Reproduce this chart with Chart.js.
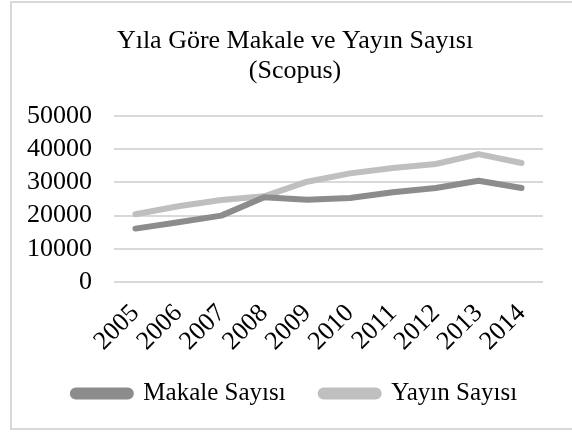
<!DOCTYPE html>
<html>
<head>
<meta charset="utf-8">
<script src="https://cdn.jsdelivr.net/npm/chart.js@4/dist/chart.umd.min.js"></script>
<style>
    body { margin: 0; background: #fff; }
    canvas { display: block; }
</style>
</head>
<body>
<canvas id="scopus-chart" width="572" height="432"></canvas>
<script>
const years = ['2005', '2006', '2007', '2008', '2009', '2010', '2011', '2012', '2013', '2014'];
const makaleSayisi = [16100, 18000, 20000, 25500, 24800, 25300, 27000, 28300, 30500, 28300];
const yayinSayisi = [20400, 22800, 24700, 25800, 30200, 32700, 34300, 35500, 38500, 35800];
const yTicks = [0, 10000, 20000, 30000, 40000, 50000];

const serif = "'Liberation Serif', 'Times New Roman', serif";

// light grey frame round the whole chart, open on the right like the picture
const framePlugin = {
    id: 'frame',
    beforeDraw(chart) {
        const ctx = chart.ctx;
        ctx.save();
        ctx.fillStyle = '#fff';
        ctx.fillRect(0, 0, chart.width, chart.height);
        ctx.strokeStyle = '#d9d9d9';
        ctx.lineWidth = 2;
        ctx.strokeRect(11, 2, 620, 427);
        ctx.restore();
    },
    afterLayout(chart) {
        // title and legend sit a bit right of the plot centre in the original
        chart.legend.left += 10;
        chart.legend.right += 10;
        chart.legend.top -= 19;
        chart.titleBlock.left += 10;
        chart.titleBlock.right += 10;
    }
};

function drawChart() {
    const ctx = document.getElementById('scopus-chart').getContext('2d');
    new Chart(ctx, {
        type: 'line',
        data: {
            labels: years,
            datasets: [{
                label: 'Makale Sayısı',
                data: makaleSayisi,
                borderColor: '#8c8c8c',
                backgroundColor: '#8c8c8c',
                borderWidth: 6,
                pointRadius: 0,
                borderCapStyle: 'round',
                borderJoinStyle: 'round',
                tension: 0,
            }, {
                label: 'Yayın Sayısı',
                data: yayinSayisi,
                borderColor: '#bfbfbf',
                backgroundColor: '#bfbfbf',
                borderWidth: 6,
                pointRadius: 0,
                borderCapStyle: 'round',
                borderJoinStyle: 'round',
                tension: 0,
            }],
        },
        options: {
            responsive: false,
            animation: false,
            layout: {
                padding: { left: 27, right: 29, top: 0, bottom: 22 },
            },
            plugins: {
                title: {
                    display: true,
                    text: ['Yıla Göre Makale ve Yayın Sayısı', '(Scopus)'],
                    color: '#000',
                    font: { family: serif, size: 26, weight: 'normal', lineHeight: 1.15 },
                    padding: { top: 26, bottom: 30 },
                },
                legend: {
                    position: 'bottom',
                    maxHeight: 45,
                    labels: {
                        color: '#000',
                        font: { family: serif, size: 25 },
                        boxWidth: 58,
                        boxHeight: 6,
                        useBorderRadius: true,
                        borderRadius: 3,
                        padding: 35,
                    },
                },
                tooltip: { enabled: false },
            },
            scales: {
                x: {
                    offset: true,
                    grid: { display: false },
                    border: { display: false },
                    afterFit(scale) {
                        scale.paddingLeft = 0;
                        scale.paddingRight = 0;
                    },
                    ticks: {
                        color: '#000',
                        font: { family: serif, size: 26 },
                        autoSkip: false,
                        minRotation: 45,
                        maxRotation: 45,
                        padding: 8,
                    },
                },
                y: {
                    min: 0,
                    max: 50000,
                    afterBuildTicks(axis) {
                        axis.ticks = yTicks.map(v => ({ value: v }));
                    },
                    afterFit(axis) {
                        axis.width = 87;
                    },
                    grid: { color: '#d9d9d9', lineWidth: 2, drawTicks: false },
                    border: { display: false },
                    ticks: {
                        color: '#000',
                        font: { family: serif, size: 26 },
                        autoSkip: false,
                        padding: 22,
                        callback: value => String(value),
                    },
                },
            },
        },
        plugins: [framePlugin],
    });
}

window.onload = () => {
    drawChart();
};
</script>
</body>
</html>
